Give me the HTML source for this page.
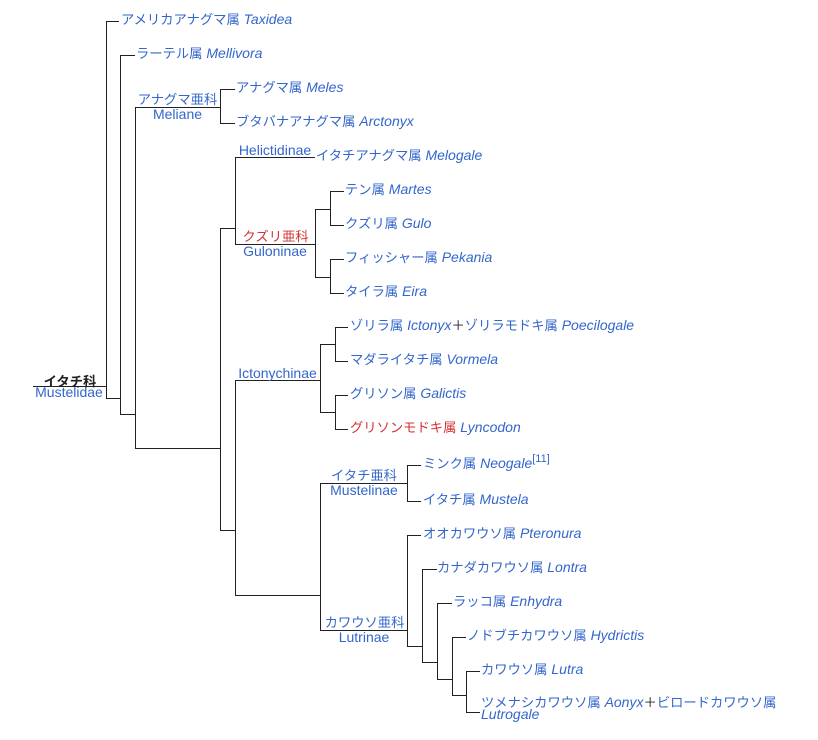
<!DOCTYPE html>
<html>
<head>
<meta charset="utf-8">
<style>
html,body{margin:0;padding:0;background:#fff;}
svg{display:block;}
text{font-family:"Liberation Sans","Noto Sans CJK JP",sans-serif;font-size:14px;fill:#3366cc;}
.j{font-size:13.3px;}
.i{font-style:italic;}
.r{fill:#d33333;}
.k{fill:#202122;}
.m{text-anchor:middle;}
</style>
</head>
<body>
<svg width="818" height="740" viewBox="0 0 818 740" xmlns="http://www.w3.org/2000/svg">
<g fill="none" stroke="#202122" stroke-width="1" shape-rendering="crispEdges">
<path d="M33 386.5 H106.5"/>
<path d="M119 21.5 H106.5 V398.5 H120.5"/>
<path d="M135 55.5 H120.5 V414.5 H135.5"/>
<path d="M220.5 107.5 H135.5 V448.5 H220.5"/>
<path d="M235 89.5 H220.5 V123.5 H235"/>
<path d="M235.5 228.5 H220.5 V530.5 H235.5"/>
<path d="M315 157.5 H235.5 V244.5 H315.5"/>
<path d="M330.5 209.5 H315.5 V277.5 H330.5"/>
<path d="M344 191.5 H330.5 V225.5 H344"/>
<path d="M344 259.5 H330.5 V293.5 H344"/>
<path d="M320.5 380.5 H235.5 V595.5 H320.5"/>
<path d="M335.5 344.5 H320.5 V412.5 H335.5"/>
<path d="M348 327.5 H335.5 V361.5 H348"/>
<path d="M348 395.5 H335.5 V429.5 H348"/>
<path d="M407.5 483.5 H320.5 V630.5 H407.5"/>
<path d="M421 465.5 H407.5 V501.5 H421"/>
<path d="M421 535.5 H407.5 V646.5 H422.5"/>
<path d="M437 569.5 H422.5 V662.5 H437.5"/>
<path d="M452 603.5 H437.5 V679.5 H452.5"/>
<path d="M466 637.5 H452.5 V695.5 H466.5"/>
<path d="M480 671.5 H466.5 V712.5 H480"/>
</g>

<!-- root -->
<text class="k m" x="70" y="386" font-weight="bold"><tspan class="j k" font-weight="bold">イタチ科</tspan></text>
<text class="m" x="69" y="397">Mustelidae</text>

<!-- subfamily labels -->
<text class="m" x="177.5" y="104"><tspan class="j">アナグマ亜科</tspan></text>
<text class="m" x="177.5" y="119">Meliane</text>
<text class="m" x="275" y="155">Helictidinae</text>
<text class="m r" x="275.5" y="241"><tspan class="j r">クズリ亜科</tspan></text>
<text class="m" x="275" y="256">Guloninae</text>
<text class="m" x="277.5" y="378">Ictonychinae</text>
<text class="m" x="364" y="480"><tspan class="j">イタチ亜科</tspan></text>
<text class="m" x="364" y="495">Mustelinae</text>
<text class="m" x="364.5" y="627"><tspan class="j">カワウソ亜科</tspan></text>
<text class="m" x="364" y="642">Lutrinae</text>

<!-- genus labels -->
<text x="121" y="24"><tspan class="j">アメリカアナグマ属</tspan> <tspan class="i">Taxidea</tspan></text>
<text x="136" y="58"><tspan class="j">ラーテル属</tspan> <tspan class="i">Mellivora</tspan></text>
<text x="236" y="92"><tspan class="j">アナグマ属</tspan> <tspan class="i">Meles</tspan></text>
<text x="236" y="126"><tspan class="j">ブタバナアナグマ属</tspan> <tspan class="i">Arctonyx</tspan></text>
<text x="316" y="160"><tspan class="j">イタチアナグマ属</tspan> <tspan class="i">Melogale</tspan></text>
<text x="345" y="194"><tspan class="j">テン属</tspan> <tspan class="i">Martes</tspan></text>
<text x="345" y="228"><tspan class="j">クズリ属</tspan> <tspan class="i">Gulo</tspan></text>
<text x="345" y="262"><tspan class="j">フィッシャー属</tspan> <tspan class="i">Pekania</tspan></text>
<text x="345" y="296"><tspan class="j">タイラ属</tspan> <tspan class="i">Eira</tspan></text>
<text x="350" y="330"><tspan class="j">ゾリラ属</tspan> <tspan class="i">Ictonyx</tspan><tspan class="j k">＋</tspan><tspan class="j">ゾリラモドキ属</tspan> <tspan class="i">Poecilogale</tspan></text>
<text x="350" y="364"><tspan class="j">マダライタチ属</tspan> <tspan class="i">Vormela</tspan></text>
<text x="350" y="398"><tspan class="j">グリソン属</tspan> <tspan class="i">Galictis</tspan></text>
<text x="350" y="432"><tspan class="j r">グリソンモドキ属</tspan> <tspan class="i">Lyncodon</tspan></text>
<text x="423" y="468"><tspan class="j">ミンク属</tspan> <tspan class="i">Neogale</tspan><tspan dy="-6" font-size="11">[11]</tspan></text>
<text x="423" y="504"><tspan class="j">イタチ属</tspan> <tspan class="i">Mustela</tspan></text>
<text x="423" y="538"><tspan class="j">オオカワウソ属</tspan> <tspan class="i">Pteronura</tspan></text>
<text x="437" y="572"><tspan class="j">カナダカワウソ属</tspan> <tspan class="i">Lontra</tspan></text>
<text x="453" y="606"><tspan class="j">ラッコ属</tspan> <tspan class="i">Enhydra</tspan></text>
<text x="467" y="640"><tspan class="j">ノドブチカワウソ属</tspan> <tspan class="i">Hydrictis</tspan></text>
<text x="481" y="674"><tspan class="j">カワウソ属</tspan> <tspan class="i">Lutra</tspan></text>
<text x="481" y="707"><tspan class="j">ツメナシカワウソ属</tspan> <tspan class="i">Aonyx</tspan><tspan class="j k">＋</tspan><tspan class="j">ビロードカワウソ属</tspan></text>
<text x="481" y="719"><tspan class="i">Lutrogale</tspan></text>
</svg>
</body>
</html>
